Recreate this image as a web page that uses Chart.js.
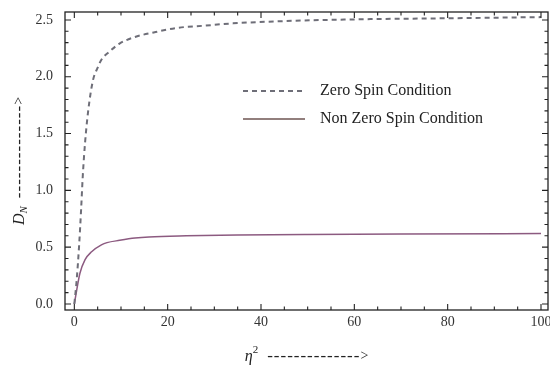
<!DOCTYPE html>
<html>
<head>
<meta charset="utf-8">
<script src="https://cdn.jsdelivr.net/npm/chart.js@4/dist/chart.umd.min.js"></script>
<style>
  html,body{margin:0;padding:0;background:#fff;}
  canvas{display:block;}
</style>
</head>
<body>
<canvas id="c" width="550" height="367"></canvas>
<script>
// ---- data ----
const etaZero  = [0, 0.5, 1, 1.45, 1.8, 2.3, 3, 4, 5, 5.8, 7.5, 9.6, 13, 17, 22, 28, 34, 45, 60, 80, 100];
const dZero    = [0, 0.21, 0.5, 0.83, 1.12, 1.42, 1.71, 1.97, 2.08, 2.15, 2.22, 2.29, 2.35, 2.39, 2.43, 2.45, 2.47, 2.49, 2.505, 2.515, 2.525];
const etaNonZero = [0, 0.5, 1.2, 2.3, 3.7, 5.8, 7, 9.7, 13, 16, 24, 35, 50, 70, 100];
const dNonZero   = [0, 0.12, 0.27, 0.39, 0.46, 0.52, 0.54, 0.56, 0.58, 0.59, 0.6, 0.607, 0.612, 0.616, 0.62];
const xMajorTicks = [0, 20, 40, 60, 80, 100];
const yMajorTicks = [0, 0.5, 1.0, 1.5, 2.0, 2.5];
const seriesLabels = ['Zero Spin Condition', 'Non Zero Spin Condition'];

const SERIF = '"Liberation Serif", "Times New Roman", serif';
const dashColor = '#6e6e78';
const solidColor = '#8c5a80';

const frameAndTicks = {
  id: 'frameAndTicks',
  afterDatasetsDraw(chart) {
    const {ctx, chartArea: a, scales: {x, y}} = chart;
    ctx.save();
    ctx.strokeStyle = '#222';
    ctx.lineWidth = 1.3;
    ctx.strokeRect(a.left, a.top, a.right - a.left, a.bottom - a.top);
    ctx.lineWidth = 1.1;
    ctx.beginPath();
    for (let v = 0; v <= 100.001; v += 5) {
      const px = x.getPixelForValue(v);
      const len = (Math.abs(v % 20) < 1e-6) ? 6 : 3.5;
      ctx.moveTo(px, a.bottom); ctx.lineTo(px, a.bottom - len);
      ctx.moveTo(px, a.top); ctx.lineTo(px, a.top + len);
    }
    for (let i = 0; i <= 25; i++) {
      const v = i / 10;
      const py = y.getPixelForValue(v);
      const len = (i % 5 === 0) ? 6 : 3.5;
      ctx.moveTo(a.left, py); ctx.lineTo(a.left + len, py);
      ctx.moveTo(a.right, py); ctx.lineTo(a.right - len, py);
    }
    ctx.stroke();
    ctx.restore();
  }
};

function richWidth(ctx, parts) {
  let w = 0;
  for (const p of parts) { ctx.font = p.font; ctx.letterSpacing = p.ls || '0px'; w += ctx.measureText(p.text).width + (p.gap || 0); }
  return w;
}
function drawRich(ctx, parts, x, y) {
  let cx = x;
  for (const p of parts) {
    ctx.font = p.font; ctx.letterSpacing = p.ls || '0px';
    ctx.fillText(p.text, cx, y + (p.dy || 0));
    cx += ctx.measureText(p.text).width + (p.gap || 0);
  }
}

const titlesAndLegend = {
  id: 'titlesAndLegend',
  afterDraw(chart) {
    const {ctx, chartArea: a} = chart;
    ctx.save();
    ctx.fillStyle = '#222';
    ctx.textBaseline = 'alphabetic';
    ctx.textAlign = 'left';
    // x title
    const xParts = [
      {text: 'η', font: 'italic 16px ' + SERIF},
      {text: '2', font: '11px ' + SERIF, dy: -8, gap: 9},
      {text: '--------------', font: '17px ' + SERIF, ls: '1px', dy: 0},
      {text: '>', font: '14px ' + SERIF, dy: -1}
    ];
    const xw = richWidth(ctx, xParts);
    drawRich(ctx, xParts, (a.left + a.right) / 2 - xw / 2, 361);
    // y title
    const yParts = [
      {text: 'D', font: 'italic 16px ' + SERIF},
      {text: 'N', font: 'italic 11px ' + SERIF, dy: 3, gap: 8},
      {text: '--------------', font: '17px ' + SERIF, ls: '1px', dy: 0},
      {text: '>', font: '14px ' + SERIF, dy: -1}
    ];
    const yw = richWidth(ctx, yParts);
    ctx.translate(24, (a.top + a.bottom) / 2);
    ctx.rotate(-Math.PI / 2);
    drawRich(ctx, yParts, -yw / 2, 0);
    ctx.restore();

    // legend
    ctx.save();
    ctx.letterSpacing = '0px';
    ctx.lineWidth = 1.8;
    ctx.strokeStyle = dashColor;
    ctx.setLineDash([5, 4]);
    ctx.beginPath(); ctx.moveTo(243, 91); ctx.lineTo(305, 91); ctx.stroke();
    ctx.setLineDash([]);
    ctx.lineWidth = 1.5;
    ctx.strokeStyle = '#6e5552';
    ctx.beginPath(); ctx.moveTo(243, 119); ctx.lineTo(305, 119); ctx.stroke();
    ctx.fillStyle = '#222';
    ctx.font = '16px ' + SERIF;
    ctx.textBaseline = 'alphabetic';
    ctx.fillText(seriesLabels[0], 320, 95);
    ctx.fillText(seriesLabels[1], 320, 123);
    ctx.restore();
  }
};

const toPts = (xs, ys) => xs.map((v, i) => ({x: v, y: ys[i]}));

new Chart(document.getElementById('c'), {
  type: 'line',
  data: {
    datasets: [
      {
        label: seriesLabels[0],
        data: toPts(etaZero, dZero),
        borderColor: dashColor,
        borderWidth: 2,
        borderDash: [5, 4],
        pointRadius: 0,
        fill: false,
        cubicInterpolationMode: 'monotone'
      },
      {
        label: seriesLabels[1],
        data: toPts(etaNonZero, dNonZero),
        borderColor: solidColor,
        borderWidth: 1.5,
        pointRadius: 0,
        fill: false,
        cubicInterpolationMode: 'monotone'
      }
    ]
  },
  options: {
    responsive: false,
    animation: false,
    layout: {padding: {left: 0, right: 2, top: 12, bottom: 0}},
    plugins: {legend: {display: false}, tooltip: {enabled: false}},
    scales: {
      x: {
        type: 'linear',
        min: -2, max: 101.5,
        grid: {display: false, drawTicks: false},
        border: {display: false},
        ticks: {
          color: '#333', padding: 4,
          font: {family: SERIF, size: 14},
          callback: v => String(v)
        },
        afterBuildTicks: s => { s.ticks = xMajorTicks.map(v => ({value: v})); },
        afterFit: s => { s.height = 57; s.paddingLeft = 0; s.paddingRight = 0; }
      },
      y: {
        type: 'linear',
        min: -0.053, max: 2.57,
        grid: {display: false, drawTicks: false},
        border: {display: false},
        ticks: {
          color: '#333', padding: 12,
          font: {family: SERIF, size: 14},
          callback: v => Number(v).toFixed(1)
        },
        afterBuildTicks: s => { s.ticks = yMajorTicks.map(v => ({value: v})); },
        afterFit: s => { s.width = 65; s.paddingTop = 0; s.paddingBottom = 0; }
      }
    }
  },
  plugins: [frameAndTicks, titlesAndLegend]
});
</script>
</body>
</html>
